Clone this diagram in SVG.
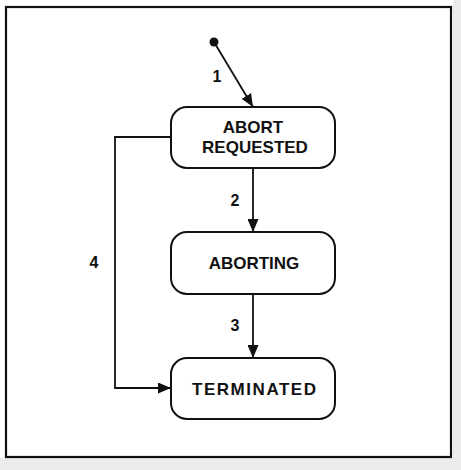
<svg xmlns="http://www.w3.org/2000/svg" width="461" height="470" viewBox="0 0 461 470">
<defs>
<style>
.node rect{fill:#fff;stroke:#111;stroke-width:2}
.node text{font-family:"Liberation Sans",Arial,sans-serif;font-weight:bold;font-size:17px;fill:#111;text-anchor:middle}
.lbl{font-family:"Liberation Sans",Arial,sans-serif;font-weight:bold;font-size:16px;fill:#111;text-anchor:middle}
.edge{fill:none;stroke:#111;stroke-width:1.8}
</style>
<marker id="arr" viewBox="0 0 13 11" refX="13" refY="5.5" markerWidth="13" markerHeight="11" markerUnits="userSpaceOnUse" orient="auto">
<path d="M0,0 L13,5.5 L0,11 Z" fill="#111"/>
</marker>
</defs>
<rect x="0" y="0" width="461" height="470" fill="#fff"/>
<rect x="453" y="0" width="8" height="470" fill="#ececec"/>
<rect x="0" y="458" width="461" height="12" fill="#ececec"/>
<rect x="6" y="7" width="445" height="450" fill="#fff" stroke="#111" stroke-width="2.2"/>
<g id="connectors">
<circle cx="214" cy="42" r="4.5" fill="#111"/>
<line class="edge" x1="214" y1="42" x2="253" y2="107" marker-end="url(#arr)"/>
<line class="edge" x1="253" y1="168" x2="253" y2="232" marker-end="url(#arr)"/>
<line class="edge" x1="253" y1="294" x2="253" y2="358" marker-end="url(#arr)"/>
<polyline class="edge" points="171,137 115,137 115,388 171,388" marker-end="url(#arr)"/>
<text class="lbl" x="217" y="82">1</text>
<text class="lbl" x="235" y="206">2</text>
<text class="lbl" x="235" y="331">3</text>
<text class="lbl" x="94" y="268">4</text>
</g>
<g id="abort-requested" class="node">
<rect x="171" y="107" width="164" height="61" rx="16" ry="16"/>
<text x="253" y="133">ABORT</text>
<text x="255" y="153">REQUESTED</text>
</g>
<g id="aborting" class="node">
<rect x="171" y="232" width="164" height="62" rx="16" ry="16"/>
<text x="254" y="269">ABORTING</text>
</g>
<g id="terminated" class="node">
<rect x="171" y="358" width="164" height="61" rx="16" ry="16"/>
<text x="254" y="395" textLength="124" lengthAdjust="spacing">TERMINATED</text>
</g>
</svg>
